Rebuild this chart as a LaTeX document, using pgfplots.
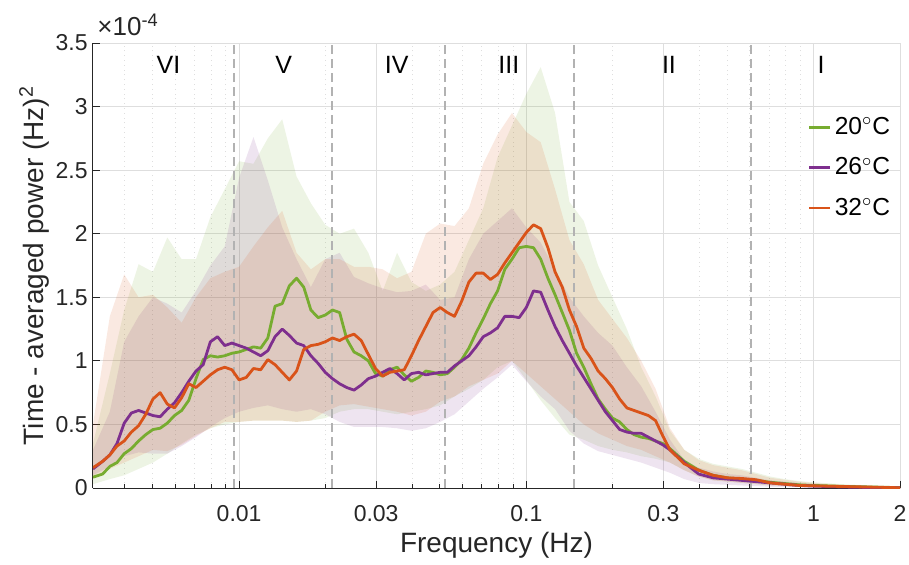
\documentclass[border=0pt]{standalone}
\usepackage{fontspec}
\setmainfont{Liberation Sans}
\usepackage{pgfplots}
\usepackage{pgfplotstable}
\pgfplotsset{compat=1.18}
\usepgfplotslibrary{fillbetween}

\definecolor{cG}{RGB}{119,172,48}
\definecolor{cP}{RGB}{126,47,142}
\definecolor{cO}{RGB}{217,83,25}
\definecolor{axgray}{RGB}{38,38,38}
\definecolor{gridgray}{RGB}{222,222,222}
\definecolor{dashgray}{RGB}{178,178,178}

% mean curves (units of 1e-4)
\pgfplotstableread{
f g p o
0.0031 0.085 0.15 0.16
0.003350 0.11 0.21 0.21
0.003548 0.17 0.26 0.26
0.003758 0.20 0.35 0.33
0.003981 0.27 0.51 0.37
0.004217 0.31 0.59 0.44
0.004467 0.37 0.61 0.49
0.004732 0.42 0.59 0.58
0.005012 0.46 0.57 0.70
0.005309 0.47 0.56 0.75
0.005623 0.51 0.62 0.66
0.005957 0.57 0.67 0.63
0.006310 0.61 0.75 0.71
0.006683 0.69 0.84 0.82
0.007079 0.86 0.92 0.79
0.007499 1.01 0.97 0.84
0.007943 1.04 1.15 0.89
0.008414 1.03 1.19 0.93
0.008913 1.04 1.12 0.95
0.009441 1.06 1.14 0.93
0.01 1.07 1.12 0.85
0.01059 1.09 1.10 0.87
0.01122 1.11 1.07 0.94
0.01189 1.10 1.04 0.93
0.01259 1.18 1.08 1.01
0.01334 1.43 1.19 0.97
0.01413 1.45 1.25 0.91
0.01496 1.59 1.20 0.85
0.01585 1.65 1.14 0.92
0.01679 1.58 1.12 1.09
0.01778 1.40 1.04 1.12
0.01884 1.34 0.98 1.13
0.01995 1.36 0.91 1.15
0.02113 1.40 0.86 1.18
0.02239 1.38 0.82 1.16
0.02371 1.17 0.79 1.19
0.02512 1.07 0.77 1.21
0.02661 1.04 0.81 1.16
0.02818 1.00 0.86 1.05
0.02985 0.90 0.88 0.94
0.03162 0.88 0.91 0.88
0.03350 0.93 0.94 0.91
0.03548 0.95 0.90 0.92
0.03758 0.89 0.85 0.93
0.03981 0.84 0.90 1.04
0.04217 0.87 0.91 1.16
0.04467 0.92 0.89 1.27
0.04732 0.91 0.90 1.38
0.05012 0.89 0.91 1.42
0.05309 0.90 0.91 1.38
0.05623 0.95 0.96 1.35
0.05957 1.01 1.00 1.47
0.06310 1.10 1.04 1.62
0.06683 1.22 1.11 1.69
0.07079 1.33 1.19 1.69
0.07499 1.45 1.22 1.64
0.07943 1.55 1.26 1.68
0.08414 1.72 1.35 1.77
0.08913 1.80 1.35 1.85
0.09441 1.89 1.34 1.93
0.1 1.90 1.42 2.01
0.1059 1.89 1.55 2.07
0.1122 1.80 1.54 2.04
0.1189 1.65 1.40 1.89
0.1259 1.52 1.27 1.70
0.1334 1.38 1.16 1.58
0.1413 1.24 1.06 1.40
0.1496 1.06 0.96 1.27
0.1585 0.95 0.87 1.10
0.1679 0.82 0.78 1.02
0.1778 0.70 0.69 0.92
0.1884 0.62 0.60 0.86
0.1995 0.55 0.53 0.79
0.2113 0.52 0.46 0.70
0.2239 0.46 0.44 0.63
0.2371 0.42 0.43 0.61
0.2512 0.40 0.43 0.59
0.2661 0.39 0.40 0.57
0.2818 0.37 0.37 0.53
0.2985 0.35 0.34 0.41
0.3162 0.31 0.30 0.30
0.3548 0.21 0.20 0.19
0.3981 0.14 0.11 0.14
0.4467 0.10 0.08 0.10
0.5012 0.08 0.07 0.08
0.5623 0.07 0.06 0.075
0.6310 0.06 0.05 0.065
0.7079 0.045 0.04 0.04
0.7943 0.035 0.03 0.03
0.8913 0.025 0.02 0.02
1.0 0.02 0.015 0.017
1.259 0.013 0.008 0.012
1.585 0.008 0.004 0.007
2.0 0.003 0.002 0.002
}\lines

% shaded bands: upper / lower for each temperature
\pgfplotstableread{
f gu gl pu pl ou ol
0.0031 0.35 0.03 0.30 0.10 0.50 0.08
0.003548 0.90 0.07 0.60 0.17 1.35 0.15
0.003981 1.40 0.10 1.15 0.25 1.68 0.20
0.004467 1.76 0.15 1.35 0.28 1.50 0.25
0.005012 1.70 0.20 1.50 0.27 1.52 0.30
0.005623 1.97 0.27 1.45 0.27 1.42 0.29
0.006310 1.80 0.35 1.38 0.33 1.30 0.34
0.007079 1.80 0.42 1.55 0.40 1.50 0.41
0.007943 2.13 0.47 1.75 0.48 1.65 0.47
0.008913 2.35 0.50 1.90 0.55 1.70 0.52
0.01 2.57 0.52 2.44 0.60 1.74 0.52
0.01122 2.55 0.53 2.76 0.63 1.90 0.53
0.01259 2.75 0.53 2.42 0.65 2.05 0.53
0.01413 2.90 0.53 2.05 0.62 2.18 0.53
0.01585 2.45 0.52 1.80 0.60 1.85 0.52
0.01778 2.24 0.53 1.58 0.62 1.72 0.53
0.01995 2.07 0.55 1.80 0.58 1.80 0.60
0.02239 2.00 0.60 1.85 0.52 1.80 0.65
0.02512 2.04 0.62 1.66 0.48 1.74 0.66
0.02818 1.85 0.62 1.61 0.48 1.74 0.64
0.03162 1.55 0.60 1.57 0.48 1.72 0.62
0.03548 1.85 0.58 1.54 0.47 1.65 0.60
0.03981 1.62 0.60 1.55 0.45 1.70 0.57
0.04467 1.55 0.62 1.60 0.47 2.00 0.60
0.05012 1.60 0.65 1.48 0.52 2.08 0.68
0.05623 1.70 0.72 1.50 0.58 2.06 0.72
0.06310 1.95 0.78 1.80 0.68 2.20 0.80
0.07079 2.20 0.85 2.00 0.78 2.55 0.85
0.07943 2.60 0.95 2.10 0.87 2.78 0.90
0.08913 2.85 1.00 2.20 0.97 2.95 1.00
0.1 3.10 0.85 2.05 0.84 2.80 0.90
0.1122 3.31 0.69 1.93 0.72 2.72 0.80
0.1259 2.95 0.55 1.72 0.62 2.35 0.70
0.1413 2.25 0.42 1.50 0.45 1.95 0.60
0.1585 2.10 0.38 1.35 0.35 1.76 0.50
0.1778 1.75 0.33 1.22 0.29 1.48 0.43
0.1995 1.50 0.30 1.12 0.26 1.33 0.38
0.2239 1.25 0.28 0.95 0.23 1.18 0.33
0.2512 0.95 0.25 0.80 0.20 1.00 0.30
0.2818 0.72 0.23 0.60 0.16 0.78 0.25
0.3162 0.45 0.20 0.38 0.12 0.47 0.20
0.3548 0.30 0.14 0.22 0.07 0.30 0.14
0.3981 0.23 0.09 0.16 0.04 0.22 0.09
0.4467 0.19 0.06 0.13 0.03 0.18 0.06
0.5012 0.17 0.05 0.11 0.025 0.16 0.05
0.5623 0.15 0.04 0.10 0.02 0.14 0.04
0.6310 0.12 0.03 0.08 0.015 0.11 0.03
0.7079 0.09 0.02 0.06 0.01 0.08 0.02
0.7943 0.07 0.015 0.05 0.008 0.065 0.015
0.8913 0.055 0.01 0.04 0.006 0.05 0.01
1.0 0.045 0.008 0.03 0.005 0.04 0.008
1.259 0.03 0.005 0.02 0.003 0.025 0.005
1.585 0.02 0.003 0.012 0.002 0.015 0.003
2.0 0.01 0.001 0.005 0.001 0.008 0.001
}\bands

\begin{document}
\begin{tikzpicture}
\begin{axis}[
  scale only axis, width=403.5pt, height=222.5pt,
  xmode=log, xmin=0.0031, xmax=2, ymin=0, ymax=3.5,
  axis x line*=bottom, axis y line*=left,
  x axis line style={-}, y axis line style={-},
  axis line style={axgray, line width=0.5pt},
  xtick={0.01,0.03,0.1,0.3,1,2},
  xticklabels={0.01,0.03,0.1,0.3,1,2},
  minor xtick={0.004,0.005,0.006,0.007,0.008,0.009,0.02,0.04,0.05,0.06,0.07,0.08,0.09,0.2,0.4,0.5,0.6,0.7,0.8,0.9},
  ytick={0,0.5,1,1.5,2,2.5,3,3.5},
  yticklabels={0,0.5,1,1.5,2,2.5,3,3.5},
  tick align=inside, major tick length=3.5pt, minor tick length=2.2pt,
  tick style={axgray, line width=0.5pt},
  xmajorgrids, ymajorgrids, xminorgrids,
  major grid style={gridgray, line width=0.5pt},
  minor grid style={gridgray, dotted, line width=0.5pt},
  /pgf/number format/assume math mode=true,
  tick label style={font=\fontsize{11.5}{13}\selectfont, text=axgray},
  xticklabel style={anchor=base, yshift=-16.5pt},
  yticklabel style={inner sep=2.5pt},
  xlabel={Frequency (Hz)},
  ylabel={Time - averaged power (Hz)\textsuperscript{2}},
  label style={font=\fontsize{14}{16}\selectfont, text=axgray},
  xlabel style={at={(axis description cs:0.5,-0.1438)}, anchor=base},
  ylabel style={at={(axis description cs:-0.0539,0.5)}, anchor=south, inner sep=0pt},
  legend style={draw=none, fill=none, at={(rel axis cs:0.992,0.838)}, anchor=north east,
    font=\fontsize{12.3}{14}\selectfont, row sep=8pt, inner sep=0pt,
    nodes={inner xsep=1.5pt, inner ysep=1pt}},
  legend cell align=left,
  legend image code/.code={\draw[#1] (0pt,0pt) -- (10.5pt,0pt);},
]
\coordinate (sw) at (rel axis cs:0,0);
\coordinate (ne) at (rel axis cs:1,1);
\coordinate (nw) at (rel axis cs:0,1);

% bands
\addplot[name path=gu, draw=none, forget plot] table[x=f, y=gu]{\bands};
\addplot[name path=gl, draw=none, forget plot] table[x=f, y=gl]{\bands};
\addplot[fill=cG, fill opacity=0.13, draw=none, forget plot] fill between[of=gu and gl];
\addplot[name path=pu, draw=none, forget plot] table[x=f, y=pu]{\bands};
\addplot[name path=pl, draw=none, forget plot] table[x=f, y=pl]{\bands};
\addplot[fill=cP, fill opacity=0.13, draw=none, forget plot] fill between[of=pu and pl];
\addplot[name path=ou, draw=none, forget plot] table[x=f, y=ou]{\bands};
\addplot[name path=ol, draw=none, forget plot] table[x=f, y=ol]{\bands};
\addplot[fill=cO, fill opacity=0.13, draw=none, forget plot] fill between[of=ou and ol];

% region boundaries
\addplot[dashgray, line width=1pt, dash pattern=on 4.5pt off 2.5pt, forget plot] coordinates {(0.0096,0) (0.0096,3.5)};
\addplot[dashgray, line width=1pt, dash pattern=on 4.5pt off 2.5pt, forget plot] coordinates {(0.021,0) (0.021,3.5)};
\addplot[dashgray, line width=1pt, dash pattern=on 4.5pt off 2.5pt, forget plot] coordinates {(0.052,0) (0.052,3.5)};
\addplot[dashgray, line width=1pt, dash pattern=on 4.5pt off 2.5pt, forget plot] coordinates {(0.146,0) (0.146,3.5)};
\addplot[dashgray, line width=1pt, dash pattern=on 4.5pt off 2.5pt, forget plot] coordinates {(0.605,0) (0.605,3.5)};

% mean curves
\addplot[cG, line width=1.4pt, line join=round] table[x=f, y=g]{\lines};
\addlegendentry{20$^{\circ}$C}
\addplot[cP, line width=1.4pt, line join=round] table[x=f, y=p]{\lines};
\addlegendentry{26$^{\circ}$C}
\addplot[cO, line width=1.4pt, line join=round] table[x=f, y=o]{\lines};
\addlegendentry{32$^{\circ}$C}

% region names
\node[font=\fontsize{12.5}{14}\selectfont] at (axis cs:0.00568,3.33) {VI};
\node[font=\fontsize{12.5}{14}\selectfont] at (axis cs:0.01429,3.33) {V};
\node[font=\fontsize{12.5}{14}\selectfont] at (axis cs:0.03538,3.33) {IV};
\node[font=\fontsize{12.5}{14}\selectfont] at (axis cs:0.0869,3.33) {III};
\node[font=\fontsize{12.5}{14}\selectfont] at (axis cs:0.3137,3.33) {II};
\node[font=\fontsize{12.5}{14}\selectfont] at (axis cs:1.062,3.33) {I};
\end{axis}
\node[anchor=base west, inner sep=0pt, xshift=2pt, yshift=4pt, font=\fontsize{13}{15}\selectfont, text=axgray] at (nw) {×10\textsuperscript{-4}};
\pgfresetboundingbox
\path[use as bounding box] ([xshift=-46.5pt,yshift=-38pt]sw) rectangle ([xshift=4.5pt,yshift=21.5pt]ne);
\end{tikzpicture}
\end{document}
